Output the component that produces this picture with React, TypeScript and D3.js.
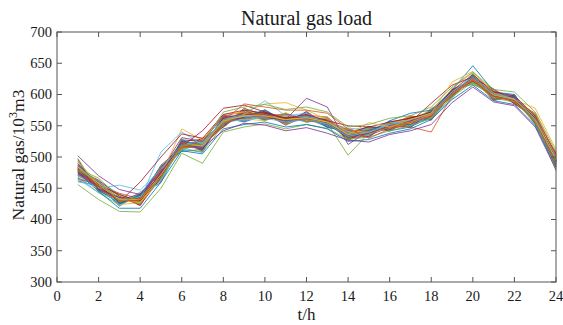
import React from 'react';
import * as d3 from 'd3';

const hours = [1, 2, 3, 4, 5, 6, 7, 8, 9, 10, 11, 12, 13, 14, 15, 16, 17, 18, 19, 20, 21, 22, 23, 24];
const xTicks = [0, 2, 4, 6, 8, 10, 12, 14, 16, 18, 20, 22, 24];
const yTicks = [300, 350, 400, 450, 500, 550, 600, 650, 700];
const lineColors = ['#0072BD', '#D95319', '#EDB120', '#7E2F8E', '#77AC30', '#4DBEEE', '#A2142F'];

const scenarios: number[][] = [
  [484, 447, 436, 425, 478, 512, 524, 551, 571, 560, 566, 557, 561, 530, 546, 544, 559, 561, 607, 619, 604, 588, 565, 489],
  [471, 458, 425, 438, 466, 525, 511, 563, 559, 572, 553, 569, 550, 541, 533, 556, 550, 574, 595, 631, 593, 597, 553, 500],
  [490, 444, 433, 428, 481, 516, 520, 547, 574, 563, 568, 560, 559, 527, 544, 549, 562, 565, 604, 622, 606, 586, 562, 486],
  [466, 455, 422, 441, 462, 529, 508, 566, 561, 575, 556, 572, 548, 545, 536, 553, 548, 571, 598, 628, 590, 600, 556, 503],
  [487, 451, 440, 424, 476, 510, 527, 554, 569, 558, 570, 555, 564, 532, 549, 541, 560, 563, 609, 616, 602, 590, 567, 491],
  [474, 462, 427, 436, 470, 523, 514, 561, 562, 569, 551, 566, 553, 539, 531, 558, 553, 576, 596, 633, 596, 594, 551, 498],
  [496, 446, 431, 433, 484, 518, 519, 549, 578, 566, 563, 562, 557, 528, 542, 546, 565, 559, 603, 624, 608, 585, 563, 484],
  [462, 453, 424, 440, 459, 526, 510, 568, 557, 571, 558, 570, 547, 543, 538, 551, 549, 569, 600, 629, 592, 599, 558, 506],
  [481, 459, 438, 422, 474, 513, 523, 556, 567, 561, 567, 558, 562, 534, 547, 547, 561, 566, 606, 618, 601, 591, 566, 488],
  [477, 449, 429, 437, 468, 521, 515, 559, 564, 574, 555, 567, 551, 538, 534, 555, 551, 573, 594, 632, 595, 595, 552, 497],
  [489, 456, 435, 431, 487, 515, 530, 552, 572, 559, 569, 561, 560, 529, 545, 543, 557, 562, 608, 621, 605, 589, 561, 492],
  [468, 443, 423, 444, 463, 527, 509, 564, 560, 568, 552, 571, 549, 544, 537, 552, 554, 570, 599, 627, 591, 598, 555, 501],
  [483, 461, 441, 427, 472, 511, 522, 557, 566, 564, 564, 556, 563, 531, 548, 548, 563, 564, 602, 623, 603, 587, 568, 487],
  [476, 452, 430, 435, 480, 524, 513, 562, 563, 570, 557, 568, 554, 540, 532, 557, 547, 577, 597, 630, 597, 596, 557, 495],
  [493, 448, 434, 429, 465, 517, 526, 550, 575, 562, 561, 563, 558, 535, 543, 545, 558, 560, 605, 620, 600, 592, 564, 490],
  [464, 457, 426, 439, 477, 522, 511, 565, 558, 573, 559, 565, 552, 537, 539, 554, 552, 572, 601, 626, 594, 593, 554, 499],
  [485, 450, 439, 426, 471, 514, 521, 553, 570, 565, 565, 559, 561, 533, 546, 550, 564, 567, 603, 625, 607, 588, 560, 493],
  [472, 460, 428, 434, 483, 520, 517, 560, 565, 567, 554, 573, 550, 542, 535, 547, 550, 568, 598, 628, 598, 598, 559, 496],
  [498, 445, 432, 430, 469, 528, 524, 555, 568, 560, 568, 557, 557, 526, 541, 553, 559, 575, 606, 617, 599, 591, 562, 485],
  [460, 455, 421, 442, 474, 515, 507, 567, 562, 576, 556, 569, 555, 546, 544, 545, 555, 563, 593, 634, 595, 596, 557, 504],
  [479, 463, 437, 423, 467, 525, 528, 548, 573, 563, 562, 564, 559, 531, 533, 556, 562, 570, 604, 621, 603, 586, 565, 494],
  [486, 447, 426, 438, 485, 509, 512, 563, 556, 567, 560, 562, 548, 539, 548, 542, 548, 565, 600, 629, 604, 600, 553, 487],
  [470, 454, 442, 433, 473, 524, 520, 558, 571, 570, 551, 567, 564, 536, 540, 551, 566, 560, 607, 624, 592, 594, 564, 502],
  [492, 458, 424, 427, 464, 516, 516, 554, 561, 558, 571, 558, 553, 544, 537, 548, 553, 578, 596, 627, 606, 589, 560, 490],
  [475, 449, 431, 441, 479, 531, 525, 565, 566, 572, 559, 566, 556, 533, 543, 554, 556, 566, 602, 622, 597, 597, 555, 497],
  [482, 466, 436, 425, 486, 512, 508, 551, 576, 569, 555, 563, 562, 529, 546, 546, 561, 572, 599, 631, 600, 592, 568, 483],
  [465, 443, 429, 437, 461, 521, 523, 559, 559, 564, 566, 570, 551, 541, 534, 557, 550, 562, 605, 619, 601, 599, 558, 505],
  [488, 455, 440, 429, 476, 519, 514, 562, 569, 561, 563, 560, 560, 537, 549, 544, 563, 569, 603, 626, 609, 587, 561, 492],
  [473, 461, 425, 439, 468, 526, 519, 553, 564, 575, 557, 565, 554, 534, 538, 552, 552, 574, 597, 630, 593, 595, 563, 498],
  [480, 452, 433, 432, 482, 514, 527, 566, 572, 566, 569, 557, 558, 543, 542, 549, 558, 564, 608, 623, 603, 590, 557, 489],
  [481, 455, 431, 428, 470, 545, 527, 568, 572, 585, 587, 575, 560, 540, 537, 555, 560, 570, 610, 635, 605, 592, 565, 500],
  [480, 456, 433, 431, 471, 518, 516, 557, 565, 566, 560, 594, 580, 520, 542, 550, 556, 568, 602, 626, 600, 592, 560, 494],
  [478, 452, 431, 430, 472, 516, 516, 556, 566, 568, 562, 562, 554, 503, 538, 548, 555, 567, 600, 624, 598, 590, 558, 492],
  [485, 458, 434, 432, 508, 540, 520, 560, 568, 590, 566, 565, 558, 538, 541, 552, 558, 570, 604, 628, 600, 593, 561, 496],
  [477, 453, 430, 430, 470, 517, 542, 578, 583, 572, 562, 563, 555, 536, 540, 550, 556, 586, 615, 628, 598, 590, 560, 493],
  [479, 455, 432, 432, 471, 518, 518, 557, 566, 566, 560, 563, 556, 536, 540, 558, 570, 575, 607, 646, 605, 594, 560, 494],
  [480, 454, 430, 431, 469, 516, 514, 554, 565, 565, 559, 562, 556, 536, 540, 548, 548, 540, 598, 622, 596, 590, 556, 491],
  [482, 458, 433, 433, 472, 519, 518, 557, 566, 566, 560, 563, 556, 536, 540, 550, 556, 568, 602, 626, 599, 592, 578, 512],
  [502, 470, 448, 440, 475, 522, 512, 560, 562, 568, 556, 560, 552, 532, 538, 550, 558, 570, 603, 627, 601, 594, 562, 497],
  [456, 432, 413, 412, 450, 506, 490, 540, 548, 553, 545, 552, 546, 528, 532, 542, 550, 562, 596, 620, 594, 588, 556, 478],
  [470, 450, 455, 447, 480, 520, 515, 560, 565, 562, 556, 560, 553, 533, 540, 552, 560, 570, 604, 628, 600, 592, 560, 495],
  [483, 455, 428, 460, 500, 537, 530, 568, 575, 570, 562, 568, 558, 550, 548, 556, 562, 572, 606, 632, 604, 598, 566, 505],
  [475, 445, 418, 418, 460, 510, 505, 545, 552, 556, 548, 552, 545, 525, 528, 538, 545, 560, 592, 615, 590, 584, 550, 484],
  [478, 450, 430, 432, 472, 518, 518, 558, 585, 580, 575, 575, 570, 545, 530, 545, 555, 566, 600, 624, 597, 590, 570, 502],
  [484, 455, 432, 432, 472, 520, 518, 558, 566, 566, 560, 563, 556, 536, 555, 548, 560, 570, 620, 637, 602, 593, 560, 496],
  [481, 449, 435, 433, 474, 520, 515, 542, 554, 551, 542, 547, 538, 527, 524, 536, 542, 552, 587, 612, 588, 582, 548, 480],
  [479, 461, 429, 436, 467, 518, 521, 572, 580, 584, 576, 580, 572, 548, 552, 562, 566, 580, 612, 636, 608, 604, 572, 508],
];

const W = 563;
const H = 325;
const M = { left: 57, right: 556, top: 32, bottom: 282 };
const FONT = '"Liberation Serif", "Times New Roman", serif';
const AXIS = '#555';
const TEXT = '#1a1a1a';
const TICK = 5;

export default function App() {
  const x = d3.scaleLinear().domain([0, 24]).range([M.left, M.right]);
  const y = d3.scaleLinear().domain([300, 700]).range([M.bottom, M.top]);
  const line = d3
    .line<number>()
    .x((_, i) => x(hours[i]))
    .y((d) => y(d));

  return (
    <svg width={W} height={H} style={{ position: 'absolute', left: 0, top: 0, background: '#fff' }}>
      <rect x={0} y={0} width={W} height={H} fill="#fff" />
      <g>
        {scenarios.map((s, i) => (
          <path
            key={i}
            d={line(s) || ''}
            fill="none"
            stroke={lineColors[i % lineColors.length]}
            strokeWidth={0.9}
            strokeOpacity={0.9}
          />
        ))}
      </g>
      <rect
        x={M.left}
        y={M.top}
        width={M.right - M.left}
        height={M.bottom - M.top}
        fill="none"
        stroke={AXIS}
        strokeWidth={1}
      />
      {xTicks.map((t) => (
        <g key={'x' + t}>
          <line x1={x(t)} x2={x(t)} y1={M.bottom} y2={M.bottom - TICK} stroke={AXIS} />
          <line x1={x(t)} x2={x(t)} y1={M.top} y2={M.top + TICK} stroke={AXIS} />
          <text x={x(t)} y={301} textAnchor="middle" fontFamily={FONT} fontSize={14.5} fill={TEXT}>
            {t}
          </text>
        </g>
      ))}
      {yTicks.map((t) => (
        <g key={'y' + t}>
          <line x1={M.left} x2={M.left + TICK} y1={y(t)} y2={y(t)} stroke={AXIS} />
          <line x1={M.right} x2={M.right - TICK} y1={y(t)} y2={y(t)} stroke={AXIS} />
          <text
            x={52}
            y={y(t)}
            dy="0.34em"
            textAnchor="end"
            fontFamily={FONT}
            fontSize={14.5}
            fill={TEXT}
          >
            {t}
          </text>
        </g>
      ))}
      <text x={(M.left + M.right) / 2} y={25} textAnchor="middle" fontFamily={FONT} fontSize={20} fill={TEXT}>
        Natural gas load
      </text>
      <text x={(M.left + M.right) / 2} y={320} textAnchor="middle" fontFamily={FONT} fontSize={17} fill={TEXT}>
        t/h
      </text>
      <text
        transform={`translate(24,${(M.top + M.bottom) / 2 - 2}) rotate(-90)`}
        textAnchor="middle"
        fontFamily={FONT}
        fontSize={17.5}
        fill={TEXT}
      >
        Natural gas/10
        <tspan dy={-7} fontSize={12}>
          3
        </tspan>
        <tspan dy={7}>m3</tspan>
      </text>
    </svg>
  );
}
